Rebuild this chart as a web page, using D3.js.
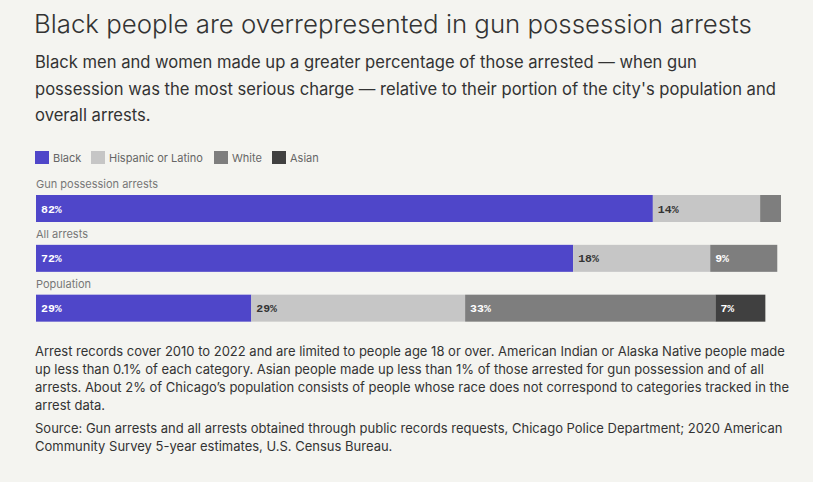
<!DOCTYPE html>
<html>
<head>
<meta charset="utf-8">
<script src="https://cdn.jsdelivr.net/npm/d3@7"></script>
<style>
  body { margin: 0; background: #f4f4f0; }
  svg { display: block; }
</style>
</head>
<body>
<svg id="chart" width="813" height="482"></svg>
<script>
// data (percent of each group)
var groups = ["Black", "Hispanic or Latino", "White", "Asian"];
var colors = ["#4f46c9", "#c6c6c6", "#7e7e7e", "#404040"];
var rows = ["Gun possession arrests", "All arrests", "Population"];
var gunValues = [82.8, 14.4, 2.8, 0];
var allValues = [72.1, 18.4, 9.0, 0];
var popValues = [28.9, 28.7, 33.6, 6.7];
var shownLabels = [
  ["82%", "14%", "", ""],
  ["72%", "18%", "9%", ""],
  ["29%", "29%", "33%", "7%"]
];

var title = "Black people are overrepresented in gun possession arrests";
var subtitle = [
  "Black men and women made up a greater percentage of those arrested \u2014 when gun",
  "possession was the most serious charge \u2014 relative to their portion of the city's population and",
  "overall arrests."
];
var notes = [
  "Arrest records cover 2010 to 2022 and are limited to people age 18 or over. American Indian or Alaska Native people made",
  "up less than 0.1% of each category. Asian people made up less than 1% of those arrested for gun possession and of all",
  "arrests. About 2% of Chicago\u2019s population consists of people whose race does not correspond to categories tracked in the",
  "arrest data."
];
var source = [
  "Source: Gun arrests and all arrests obtained through public records requests, Chicago Police Department; 2020 American",
  "Community Survey 5-year estimates, U.S. Census Bureau."
];

var svg = d3.select("#chart");
var font = "Inter, 'Noto Sans', sans-serif";

svg.append("text")
  .attr("x", 34).attr("y", 33)
  .attr("font-family", font).attr("font-weight", 300)
  .attr("font-size", 25.8).attr("fill", "#333")
  .text(title);

svg.append("g").selectAll("text")
  .data(subtitle)
  .enter()
  .append("text")
  .attr("x", 35)
  .attr("y", function(d, i) { return 68 + i * 26.5 })
  .attr("font-family", font).attr("font-size", 16.6).attr("fill", "#333")
  .text(function(d) { return d });

// legend
var legendX = [35, 91, 214, 272];
var legend = svg.append("g").selectAll("g")
  .data(groups)
  .enter()
  .append("g")
  .attr("transform", function(d, i) { return "translate(" + legendX[i] + ",151)" });
legend.append("rect")
  .attr("width", 14).attr("height", 13)
  .attr("fill", function(d, i) { return colors[i] });
legend.append("text")
  .attr("x", 18).attr("y", 10.5)
  .attr("font-family", font).attr("font-size", 11).attr("fill", "#666")
  .text(function(d) { return d });

// bars
var x = d3.scaleLinear().domain([0, 100]).range([36, 781]);
var y = d3.scaleBand().domain(rows).range([180, 329.5]).paddingInner(0);
var barTop = 15, barH = 27;

var series = [gunValues, allValues, popValues];
var stacked = rows.map(function(r, ri) {
  var start = 0;
  return series[ri].map(function(v, gi) {
    var seg = { row: r, group: gi, x0: start, x1: start + v, label: shownLabels[ri][gi] };
    start += v;
    return seg;
  });
});

var rowG = svg.append("g").selectAll("g")
  .data(stacked)
  .enter()
  .append("g")
  .attr("transform", function(d) { return "translate(0," + y(d[0].row) + ")" });

rowG.append("text")
  .attr("x", 36).attr("y", 8)
  .attr("font-family", font).attr("font-size", 11).attr("fill", "#777")
  .text(function(d) { return d[0].row });

var seg = rowG.selectAll("g.seg")
  .data(function(d) { return d.filter(function(s) { return s.x1 > s.x0 }) })
  .enter()
  .append("g")
  .attr("class", "seg");

seg.append("rect")
  .attr("x", function(d) { return x(d.x0) })
  .attr("y", barTop)
  .attr("width", function(d) { return x(d.x1) - x(d.x0) })
  .attr("height", barH)
  .attr("fill", function(d) { return colors[d.group] });

seg.append("text")
  .attr("x", function(d) { return x(d.x0) + 5 })
  .attr("y", barTop + barH / 2 + 4)
  .attr("font-family", "'Liberation Mono', 'DejaVu Sans Mono', monospace")
  .attr("font-weight", "bold").attr("font-size", 11.5)
  .attr("fill", function(d) { return d.group == 1 ? "#333" : "#fff" })
  .text(function(d) { return d.label });

// notes
svg.append("g").selectAll("text")
  .data(notes)
  .enter()
  .append("text")
  .attr("x", 35)
  .attr("y", function(d, i) { return 356 + i * 18 })
  .attr("font-family", font).attr("font-size", 13).attr("fill", "#333")
  .text(function(d) { return d });

svg.append("g").selectAll("text")
  .data(source)
  .enter()
  .append("text")
  .attr("x", 35)
  .attr("y", function(d, i) { return 433 + i * 18 })
  .attr("font-family", font).attr("font-size", 13).attr("fill", "#333")
  .text(function(d) { return d });
</script>
</body>
</html>
